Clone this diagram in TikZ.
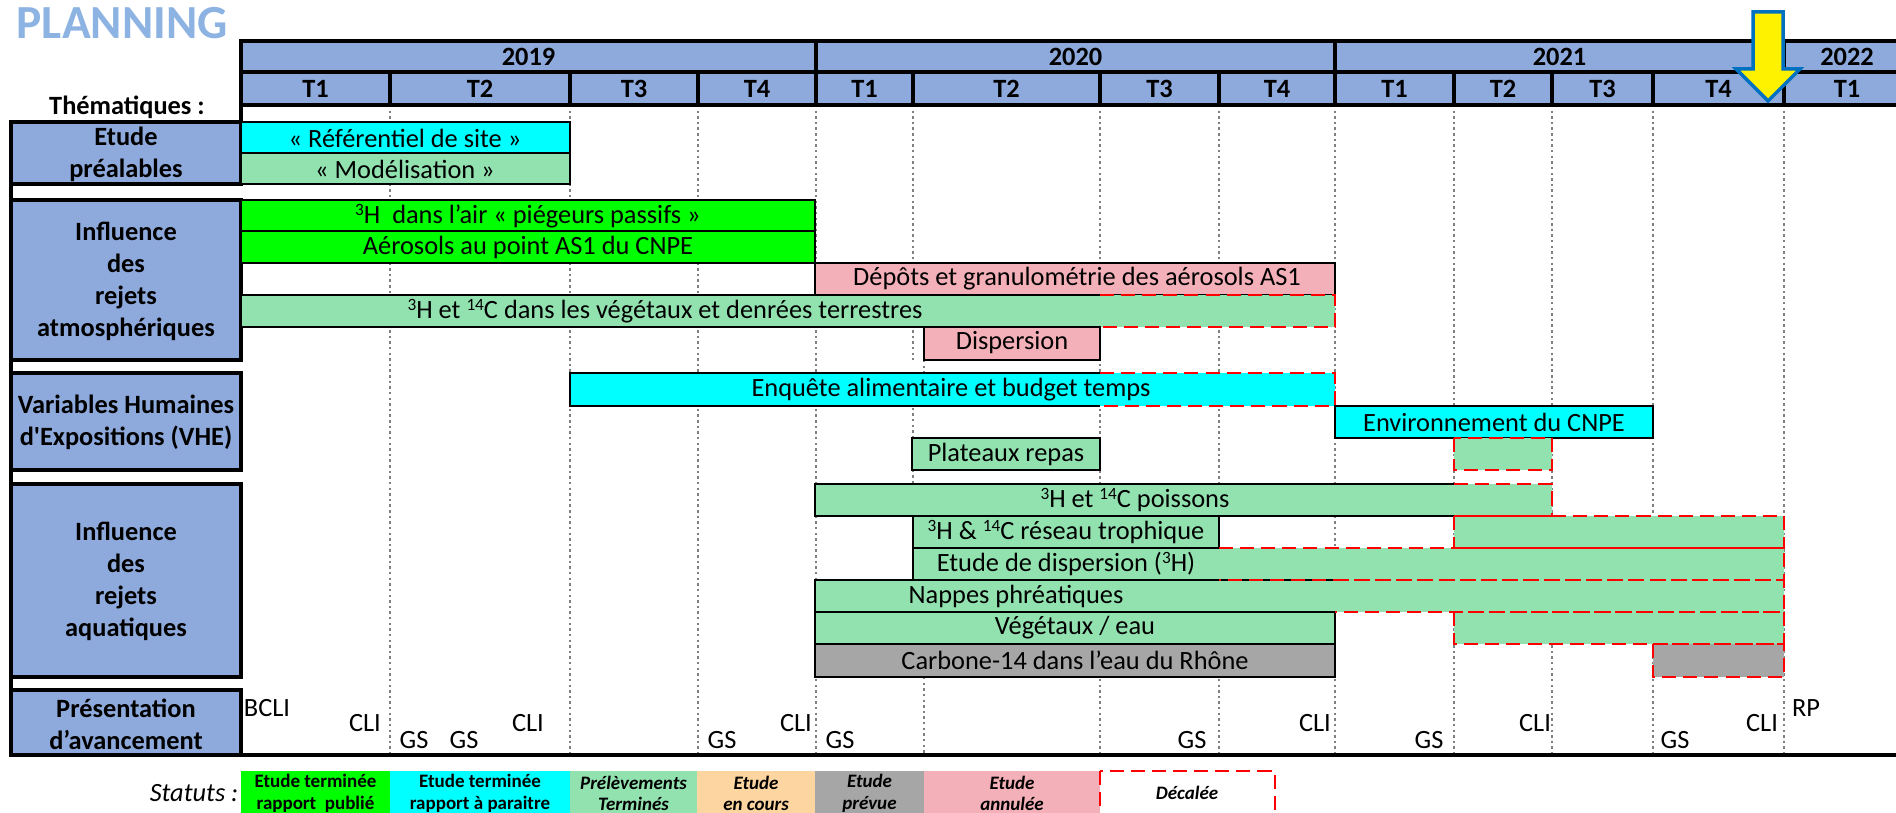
\documentclass[tikz,border=0pt]{standalone}
\usepackage{fontspec}
\setmainfont{Carlito}
\definecolor{hblue}{RGB}{142,169,219}
\definecolor{titleblue}{RGB}{141,179,226}
\definecolor{tgreen}{RGB}{0,255,0}
\definecolor{tcyan}{RGB}{0,255,255}
\definecolor{mint}{RGB}{146,226,176}
\definecolor{peach}{RGB}{252,213,160}
\definecolor{grey}{RGB}{166,166,166}
\definecolor{pink}{RGB}{244,176,184}
\definecolor{arrowblue}{RGB}{0,112,192}
\newcommand{\expo}[1]{\raisebox{0.3em}{\fontsize{4.9}{5}\selectfont #1}}

\begin{document}
\begin{tikzpicture}[x=0.01cm, y=-0.01cm,
    every node/.style={inner sep=0pt, font=\fontsize{7.5}{9.1}\selectfont},
    hdr/.style={draw=black, fill=hblue, line width=0.9pt},
    hfont/.style={font=\fontsize{7.5}{9.1}\selectfont\bfseries},
    theme/.style={align=center, font=\fontsize{7.5}{9.1}\selectfont\bfseries},
    bar/.style={draw=black, line width=0.8pt},
    late/.style={draw=red, line width=0.8pt, dash pattern=on 4pt off 2pt},
    qline/.style={gray, line width=0.6pt, dash pattern=on 0.7pt off 0.9pt},
    legtxt/.style={align=center}]
    \useasboundingbox (0,0) rectangle (1896,813);

    % titre
    \node[anchor=west, text=titleblue, font=\fontsize{13.5}{16}\selectfont\bfseries] (title) at (16,23) {PLANNING};

    % quarter grid
    \foreach \x in {390,570,698,816,1100,1219,1335,1454,1552,1653,1784} {
        \draw[qline] (\x,105) -- (\x,755);
    }
    \draw[qline] (913,105) -- (913,360);
    \draw[qline] (924,360) -- (924,374);
    \draw[qline] (913,374) -- (913,677);
    \draw[qline] (924,677) -- (924,755);

    % years and quarters
    \foreach \a/\b/\t [count=\i] in {241/816/2019, 816/1335/2020, 1335/1784/2021, 1784/1910/2022} {
        \draw[hdr] (\a,41) rectangle (\b,72);
        \node[hfont] (y\i) at ({(\a+\b)/2},56.5) {\t};
    }
    \foreach \a/\b/\t [count=\i] in {241/390/T1, 390/570/T2, 570/698/T3, 698/816/T4,
        816/913/T1, 913/1100/T2, 1100/1219/T3, 1219/1335/T4,
        1335/1454/T1, 1454/1552/T2, 1552/1653/T3, 1653/1784/T4, 1784/1910/T1} {
        \draw[hdr] (\a,72) rectangle (\b,105);
        \node[hfont] (q\i) at ({(\a+\b)/2},88.5) {\t};
    }
    \node[hfont] (them) at (127,107) {Thématiques :};
    \draw[line width=0.9pt] (241,105) -- (241,122);
    \draw[line width=0.9pt] (11,122) -- (11,755);

    % themes
    \draw[hdr] (11,122) rectangle (241,184);
    \node[theme] (etude) at (126,154) {Etude\\préalables};
    \draw[hdr] (11,200) rectangle (241,360);
    \node[theme] (atmo) at (126,281) {Influence\\des\\rejets\\atmosphériques};
    \draw[hdr] (11,373) rectangle (241,470);
    \node[theme] (vhe) at (126,422) {Variables Humaines\\d\textquotesingle Expositions (VHE)};
    \draw[hdr] (11,484) rectangle (241,677);
    \node[theme] (aqua) at (126,581) {Influence\\des\\rejets\\aquatiques};
    \draw[hdr] (11,690) rectangle (241,755);
    \node[theme] (avanc) at (126,724) {Présentation\\d’avancement};

    % Etude préalables
    \draw[bar, fill=tcyan] (241,122) rectangle (570,153);
    \node (ref) at (405,138) {« Référentiel de site »};
    \draw[bar, fill=mint] (241,153) rectangle (570,184);
    \node (model) at (405,169) {« Modélisation »};

    % rejets atmosphériques
    \draw[bar, fill=tgreen] (241,200) rectangle (815,231);
    \node (tritair) at (528,216) {\expo{3}H~ dans l’air « piégeurs passifs »};
    \draw[bar, fill=tgreen] (241,231) rectangle (815,263);
    \node (aeros) at (528,247) {Aérosols au point AS1 du CNPE};
    \draw[bar, fill=pink] (815,263) rectangle (1335,295);
    \node (depots) at (1077,279) {Dépôts et granulométrie des aérosols AS1};
    \fill[mint] (241,295) rectangle (1335,327);
    \draw[bar] (1100,295) -- (241,295) -- (241,327) -- (1100,327);
    \draw[late] (1100,295) -- (1335,295) -- (1335,327) -- (1100,327);
    \node (vegter) at (665,311) {\expo{3}H et \expo{14}C dans les végétaux et denrées terrestres};
    \draw[bar, fill=pink] (924,327) rectangle (1100,360);
    \node (disp) at (1012,343) {Dispersion};

    % VHE
    \fill[tcyan] (570,373) rectangle (1335,406);
    \draw[bar] (1100,373) -- (570,373) -- (570,406) -- (1100,406);
    \draw[late] (1100,373) -- (1335,373) -- (1335,406) -- (1100,406);
    \node (enquete) at (951,390) {Enquête alimentaire et budget temps};
    \draw[bar, fill=tcyan] (1335,406) rectangle (1653,438);
    \node (environ) at (1494,422) {Environnement du CNPE};
    \draw[bar, fill=mint] (912,438) rectangle (1100,470);
    \node (plateaux) at (1006,454) {Plateaux repas};
    \fill[mint] (1454,438) rectangle (1552,470);
    \draw[late] (1454,438) rectangle (1552,470);

    % rejets aquatiques
    \fill[mint] (815,484) rectangle (1552,516);
    \draw[bar] (1454,484) -- (815,484) -- (815,516) -- (1454,516);
    \node (poissons) at (1135,500) {\expo{3}H et \expo{14}C poissons};
    \fill[mint] (1454,516) rectangle (1784,548);
    \draw[bar, fill=mint] (913,516) rectangle (1219,548);
    \node (reseau) at (1066,532) {\expo{3}H \& \expo{14}C réseau trophique};
    \fill[mint] (913,548) rectangle (1784,580);
    \draw[bar] (1219,548) -- (913,548) -- (913,580) -- (1219,580);
    \node (disptrit) at (1066,564) {Etude de dispersion (\expo{3}H)};
    \fill[mint] (815,580) rectangle (1784,612);
    \draw[bar] (1335,580) -- (815,580) -- (815,612) -- (1335,612);
    \node (nappes) at (1016,596) {Nappes phréatiques};
    \fill[mint] (1454,612) rectangle (1784,644);
    \draw[bar, fill=mint] (815,612) rectangle (1335,644);
    \node (vegeau) at (1075,628) {Végétaux / eau};
    \fill[grey] (1653,644) rectangle (1784,677);
    \draw[bar, fill=grey] (815,644) rectangle (1335,677);
    \node (carbone) at (1075,660) {Carbone-14 dans l’eau du Rhône};
    % décalages
    \draw[late] (1454,484) -- (1552,484) -- (1552,516) -- (1454,516);
    \draw[late] (1454,516) rectangle (1784,548);
    \draw[late] (1219,548) -- (1784,548) -- (1784,580) -- (1219,580);
    \draw[late] (1335,580) -- (1784,580) -- (1784,612) -- (1335,612);
    \draw[late] (1454,612) rectangle (1784,644);
    \draw[late] (1653,644) rectangle (1784,677);

    % présentations
    \foreach \x/\y/\t [count=\i] in {267/708/BCLI, 365/723/CLI, 414/740/GS, 464/740/GS,
        528/723/CLI, 722/740/GS, 796/723/CLI, 840/740/GS, 1192/740/GS, 1315/723/CLI,
        1429/740/GS, 1535/723/CLI, 1675/740/GS, 1762/723/CLI, 1806/708/RP} {
        \node (p\i) at (\x,\y) {\t};
    }
    \draw[line width=1pt] (11,755) -- (1910,755);

    % statuts
    \node[anchor=east, font=\fontsize{7.5}{9.1}\selectfont\itshape] (statuts) at (239,793) {Statuts :};
    \foreach \a/\b/\c/\f/\t [count=\i] in {
        241/390/tgreen/\upshape/{Etude terminée\\rapport~ publié},
        390/570/tcyan/\upshape/{Etude terminée\\rapport à paraitre},
        570/697/mint/\itshape/{Prélèvements\\Terminés},
        697/815/peach/\itshape/{Etude\\en cours},
        815/924/grey/\itshape/{Etude\\prévue},
        924/1100/pink/\itshape/{Etude\\annulée}} {
        \fill[\c] (\a,771) rectangle (\b,830);
        \node[legtxt, font=\fontsize{5.4}{6.2}\selectfont\bfseries\f] (s\i) at ({(\a+\b)/2},793.5) {\t};
    }
    \draw[late] (1100,771) rectangle (1275,840);
    \node[font=\fontsize{5.4}{6.2}\selectfont\bfseries\itshape] (s7) at (1187,793) {Décalée};

    % aujourd'hui
    \draw[fill=yellow, draw=arrowblue, line width=1pt, line join=miter]
        (1753,12) -- (1783,12) -- (1783,69) -- (1800,69) -- (1768,101)
        -- (1736,69) -- (1753,69) -- cycle;
\end{tikzpicture}
\end{document}
